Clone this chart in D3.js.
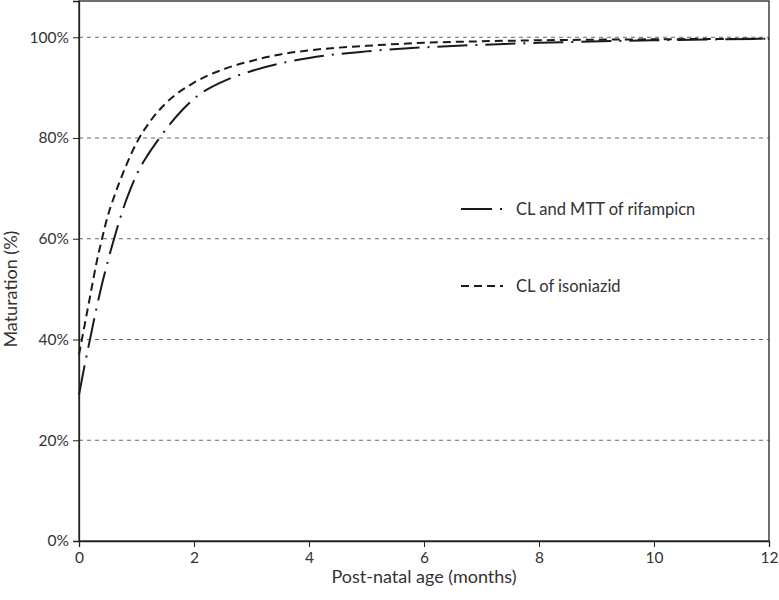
<!DOCTYPE html>
<html>
<head>
<meta charset="utf-8">
<script src="https://cdn.jsdelivr.net/npm/d3@7"></script>
<style>
  body { margin: 0; background: #fff; }
  svg text { font-family: Lato, "Open Sans", sans-serif; fill: #333; }
</style>
</head>
<body>
<svg width="779" height="600"></svg>
<script>
var width = 779, height = 600;
var margin = {top: 1, right: 10, bottom: 59, left: 79};

// post-natal age (months) and maturation (%)
var rifMonths = [0, 0.1, 0.2, 0.3, 0.4, 0.5, 0.6, 0.7, 0.8, 0.9, 1.0, 1.2, 1.4, 1.6, 1.8, 2.0, 2.5, 3, 3.5, 4, 5, 6, 7, 8, 10, 12];
var rifValues = [29, 35, 40.5, 46, 51, 55.5, 59.6, 63.5, 67, 70, 72.7, 76.7, 80, 83, 85.6, 87.8, 91.2, 93.3, 94.8, 95.9, 97.2, 98, 98.5, 98.9, 99.4, 99.7];

var inhMonths = [0, 0.1, 0.2, 0.3, 0.4, 0.5, 0.6, 0.8, 1.0, 1.25, 1.5, 2.0, 2.5, 3, 3.5, 4, 5, 6, 7, 8, 10, 12];
var inhValues = [37, 43, 49, 55, 60, 64.5, 68, 74, 79, 83.5, 86.8, 91, 93.6, 95.3, 96.6, 97.4, 98.3, 98.9, 99.2, 99.4, 99.6, 99.7];

var xTicks = [0, 2, 4, 6, 8, 10, 12];
var yTicks = [0, 20, 40, 60, 80, 100];
var seriesNames = ['CL and MTT of rifampicn', 'CL of isoniazid'];

var svg = d3.select('svg');
var iw = width - margin.left - margin.right;
var ih = height - margin.top - margin.bottom;

var x = d3.scaleLinear().domain([0, 12]).range([0, iw]);
var y = d3.scaleLinear().domain([0, 107.2]).range([ih, 0]);

var g = svg.append('g')
           .attr('transform', `translate(${margin.left},${margin.top})`);

// grid
g.selectAll('.grid')
  .data(yTicks.filter(d => d > 0))
  .enter()
  .append('line')
    .attr('x1', 0).attr('x2', iw)
    .attr('y1', d => y(d)).attr('y2', d => y(d))
    .attr('stroke', '#666')
    .attr('stroke-width', 1)
    .attr('stroke-dasharray', '4,4');

// frame
g.append('rect')
  .attr('width', iw).attr('height', ih)
  .attr('fill', 'none')
  .attr('stroke', '#222')
  .attr('stroke-width', 1.3);

var xAxis = g.append('g')
  .attr('transform', `translate(0,${ih})`)
  .call(d3.axisBottom(x).tickValues(xTicks).tickSize(6).tickPadding(5));
var yAxis = g.append('g')
  .call(d3.axisLeft(y).tickValues(yTicks).tickSize(6).tickPadding(4).tickFormat(d => d + '%'));

[xAxis, yAxis].forEach(function (a) {
  a.select('.domain').attr('stroke', '#222').attr('stroke-width', 1.3);
  a.selectAll('.tick line').attr('stroke', '#222');
  a.selectAll('.tick text').style('font-size', '15.5px').attr('fill', '#333');
});

var line = d3.line()
  .x(d => x(d[0]))
  .y(d => y(d[1]))
  .curve(d3.curveMonotoneX);

var rifData = d3.zip(rifMonths, rifValues);
var inhData = d3.zip(inhMonths, inhValues);

g.append('path')
  .datum(rifData)
  .attr('d', line)
  .attr('fill', 'none')
  .attr('stroke', '#1a1a1a')
  .attr('stroke-width', 2)
  .attr('stroke-dasharray', '30,8,2,8');

g.append('path')
  .datum(inhData)
  .attr('d', line)
  .attr('fill', 'none')
  .attr('stroke', '#1a1a1a')
  .attr('stroke-width', 2)
  .attr('stroke-dasharray', '8,5');

// legend
var legend = svg.append('g');
var dashes = ['31,8,2,8', '8,5'];
var legY = [209, 286];
seriesNames.forEach(function (name, i) {
  legend.append('line')
    .attr('x1', 461).attr('x2', 503)
    .attr('y1', legY[i]).attr('y2', legY[i])
    .attr('stroke', '#1a1a1a')
    .attr('stroke-width', 2)
    .attr('stroke-dasharray', dashes[i]);
  legend.append('text')
    .attr('x', 516).attr('y', legY[i])
    .attr('dy', '0.35em')
    .style('font-size', '16.5px')
    .text(name);
});

// axis titles
svg.append('text')
  .attr('x', margin.left + iw / 2)
  .attr('y', 583)
  .attr('text-anchor', 'middle')
  .style('font-size', '18px')
  .text('Post-natal age (months)');

svg.append('text')
  .attr('transform', `translate(17,${margin.top + y(50)}) rotate(-90)`)
  .attr('text-anchor', 'middle')
  .style('font-size', '18px')
  .text('Maturation (%)');
</script>
</body>
</html>
